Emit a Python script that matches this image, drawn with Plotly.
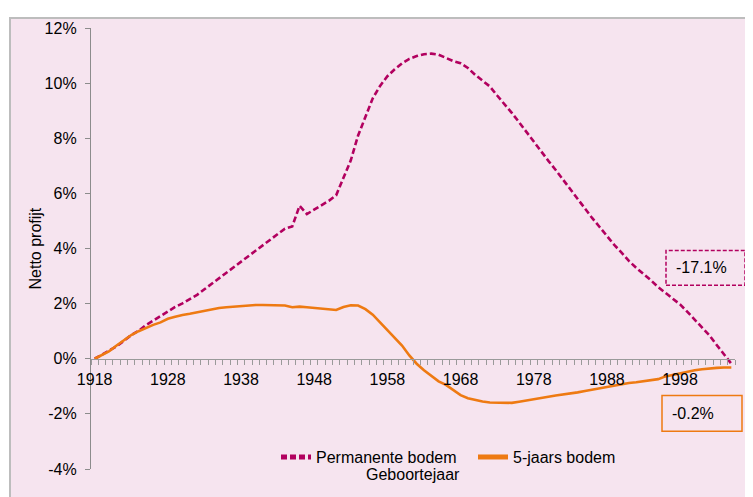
import plotly.graph_objects as go

years = list(range(1918, 2006))

permanente = [
    0.00, 0.15, 0.29, 0.45, 0.65, 0.86, 1.01, 1.22, 1.38, 1.55,   # 1918-1927
    1.72, 1.88, 2.01, 2.15, 2.32, 2.52, 2.72, 2.92, 3.12, 3.35,   # 1928-1937
    3.55, 3.75, 3.95, 4.12, 4.33, 4.55, 4.72, 4.80, 5.55, 5.25,   # 1938-1947
    5.40, 5.56, 5.73, 5.93, 6.60, 7.20, 8.10, 8.80, 9.45, 9.90,   # 1948-1957
    10.25, 10.50, 10.72, 10.88, 10.98, 11.05, 11.07, 11.03, 10.92, 10.80,  # 1958-1967
    10.72, 10.55, 10.30, 10.08, 9.88, 9.55, 9.25, 8.92, 8.58, 8.22,  # 1968-1977
    7.88, 7.52, 7.18, 6.85, 6.50, 6.15, 5.78, 5.45, 5.10, 4.78,   # 1978-1987
    4.45, 4.13, 3.85, 3.55, 3.30, 3.08, 2.85, 2.60, 2.40, 2.18,   # 1988-1997
    1.97, 1.70, 1.42, 1.12, 0.85, 0.50, 0.15, -0.18               # 1998-2005
]

vijfjaars = [
    0.00, 0.15, 0.28, 0.48, 0.68, 0.86, 1.00, 1.12, 1.23, 1.32,   # 1918-1927
    1.45, 1.52, 1.59, 1.63, 1.68, 1.73, 1.80, 1.84, 1.87, 1.89,   # 1928-1937
    1.92, 1.94, 1.95, 1.95, 1.95, 1.95, 1.93, 1.87, 1.89, 1.87,   # 1938-1947
    1.84, 1.82, 1.79, 1.77, 1.88, 1.94, 1.93, 1.80, 1.60, 1.32,   # 1948-1957
    1.05, 0.75, 0.48, 0.12, -0.18, -0.42, -0.62, -0.82, -0.95, -1.12,  # 1958-1967
    -1.32, -1.43, -1.50, -1.55, -1.59, -1.60, -1.60, -1.60, -1.56, -1.52,  # 1968-1977
    -1.48, -1.42, -1.38, -1.33, -1.30, -1.27, -1.22, -1.17, -1.12, -1.08,  # 1978-1987
    -1.03, -0.98, -0.93, -0.88, -0.85, -0.81, -0.79, -0.74, -0.64, -0.58,  # 1988-1997
    -0.53, -0.47, -0.42, -0.38, -0.35, -0.33, -0.32, -0.32        # 1998-2005
]

series_names = ["Permanente bodem", "5-jaars bodem"]
box_labels = ["-17.1%", "-0.2%"]
x_tick_years = list(range(1918, 2006, 10))
y_ticks = [-4, -2, 0, 2, 4, 6, 8, 10, 12]

MAGENTA = "#B2005F"
ORANGE = "#EE7A12"
PINK = "#F6E4EF"
FONT = "Liberation Sans, Arial, sans-serif"
FS = 16

# page offset of the figure (browser body margin)
OFF = 8
# target geometry in window px
WIN_W, WIN_H = 753, 497
PL, PR, PT, PB = 91, 735, 25, 469   # plot area edges in window px

W, H = WIN_W - OFF, WIN_H - OFF
L, T = PL - OFF, PT - OFF
R, B = WIN_W - PR, WIN_H - PB
PW, PH = PR - PL, PB - PT


def px_x(x):
    return (x - PL) / PW


def px_y(y):
    return 1 - (y - PT) / PH


fig = go.Figure()
fig.add_trace(go.Scatter(
    x=years, y=permanente, mode="lines", name=series_names[0],
    line=dict(color=MAGENTA, width=2.6, dash="6px,3px"),
))
fig.add_trace(go.Scatter(
    x=years, y=vijfjaars, mode="lines", name=series_names[1],
    line=dict(color=ORANGE, width=2.6),
))

shapes = [
    dict(type="rect", xref="paper", yref="paper", layer="below",
         x0=px_x(10), x1=px_x(770), y0=px_y(510), y1=px_y(15),
         fillcolor=PINK, line=dict(color="#BDBDBD", width=2)),
    dict(type="rect", xref="paper", yref="paper",
         x0=px_x(666), x1=px_x(745), y0=px_y(284), y1=px_y(249),
         line=dict(color=MAGENTA, width=1.5, dash="4px,2px")),
    dict(type="rect", xref="paper", yref="paper",
         x0=px_x(662), x1=px_x(742), y0=px_y(431), y1=px_y(395),
         line=dict(color=ORANGE, width=1.5)),
]

annotations = [
    dict(text=box_labels[0], xref="paper", yref="paper", x=px_x(674), y=px_y(266.5),
         xanchor="left", yanchor="middle", showarrow=False,
         font=dict(family=FONT, size=FS, color="#000")),
    dict(text=box_labels[1], xref="paper", yref="paper", x=px_x(670), y=px_y(413),
         xanchor="left", yanchor="middle", showarrow=False,
         font=dict(family=FONT, size=FS, color="#000")),
    dict(text="Geboortejaar", xref="paper", yref="paper", x=px_x(413), y=px_y(474.5),
         xanchor="center", yanchor="middle", showarrow=False,
         font=dict(family=FONT, size=FS, color="#000")),
    dict(text="Netto profijt", xref="paper", yref="paper", x=px_x(35), y=0.5,
         xanchor="center", yanchor="middle", showarrow=False, textangle=-90,
         font=dict(family=FONT, size=FS, color="#000")),
]

fig.update_layout(
    width=W, height=H,
    margin=dict(l=L, r=R, t=T, b=B, pad=0),
    paper_bgcolor="white",
    plot_bgcolor="rgba(0,0,0,0)",
    font=dict(family=FONT, size=FS, color="#000"),
    showlegend=True,
    legend=dict(orientation="h", x=px_x(276), y=px_y(457), xanchor="left", yanchor="middle",
                bgcolor="rgba(0,0,0,0)", font=dict(family=FONT, size=FS, color="#000"),
                entrywidth=152, entrywidthmode="pixels", tracegroupgap=0, itemsizing="constant"),
    shapes=shapes,
    annotations=annotations,
    xaxis=dict(
        range=[1917.5, 2005.5], anchor="free", position=0.25,
        showgrid=False, zeroline=False,
        showline=True, linecolor="#9A9A9A", linewidth=1.3,
        tickmode="array", tickvals=x_tick_years, ticktext=[str(v) for v in x_tick_years],
        ticks="outside", ticklen=6, tickcolor="rgba(0,0,0,0)",
        tickfont=dict(family=FONT, size=FS, color="#000"),
        minor=dict(ticks="outside", ticklen=5, tickwidth=1, tickcolor="#9A9A9A",
                   tick0=1917.5, dtick=1, showgrid=False),
    ),
    yaxis=dict(
        range=[-4, 12], showgrid=False, zeroline=False,
        showline=True, linecolor="#8C8C8C", linewidth=1.3,
        tickmode="array", tickvals=y_ticks, ticktext=[f"{v}%" for v in y_ticks],
        ticks="outside", ticklen=5, tickcolor="#8C8C8C", ticklabelstandoff=5,
        tickfont=dict(family=FONT, size=FS, color="#000"),
    ),
)

fig.write_html("out.html")
